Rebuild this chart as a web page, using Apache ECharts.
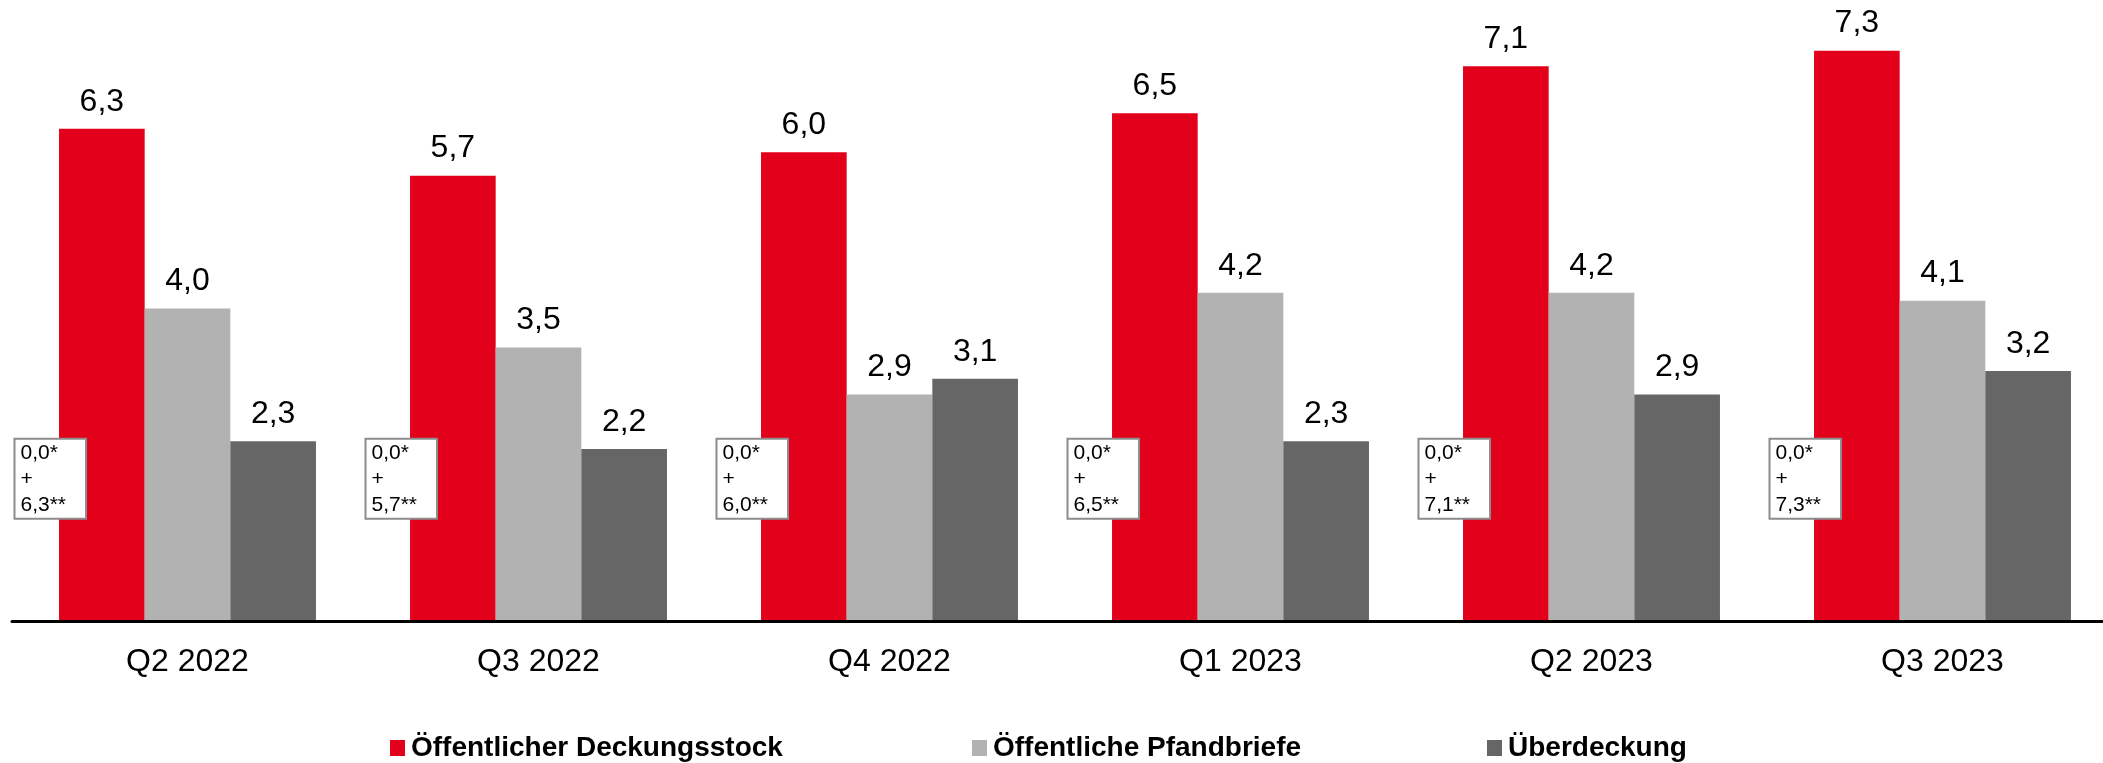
<!DOCTYPE html>
<html>
<head>
<meta charset="utf-8">
<script src="https://cdn.jsdelivr.net/npm/echarts@6/dist/echarts.min.js"></script>
<style>
  html, body { margin: 0; padding: 0; background: #fff; overflow: hidden; }
  #chart { width: 2130px; height: 763px; }
</style>
</head>
<body>
<div id="chart"></div>
<script>
// ---- data ----
const categories = ['Q2 2022', 'Q3 2022', 'Q4 2022', 'Q1 2023', 'Q2 2023', 'Q3 2023'];
const seriesNames = ['Öffentlicher Deckungsstock', 'Öffentliche Pfandbriefe', 'Überdeckung'];
const deckungsstock = [6.3, 5.7, 6.0, 6.5, 7.1, 7.3];
const pfandbriefe = [4.0, 3.5, 2.9, 4.2, 4.2, 4.1];
const ueberdeckung = [2.3, 2.2, 3.1, 2.3, 2.9, 3.2];
// annotation box parts: "a*" + "b**"
const annotPartA = [0.0, 0.0, 0.0, 0.0, 0.0, 0.0];
const annotPartB = [6.3, 5.7, 6.0, 6.5, 7.1, 7.3];

const FONT = '"Liberation Sans", Arial, sans-serif';
const fmt = v => v.toFixed(1).replace('.', ',');
const ANNOT_LEVEL = 1.82;

const chart = echarts.init(document.getElementById('chart'));

const valueLabel = {
  show: true,
  position: 'top',
  distance: 11,
  fontFamily: FONT,
  fontSize: 32,
  color: '#000',
  formatter: p => fmt(p.value)
};

const legendBase = {
  orient: 'horizontal',
  top: 729,
  icon: 'rect',
  itemWidth: 15,
  itemHeight: 16,
  selectedMode: false,
  textStyle: { fontFamily: FONT, fontSize: 28, fontWeight: 'bold', color: '#000', padding: [0, 0, 0, 1] }
};

chart.setOption({
  animation: false,
  backgroundColor: '#fff',
  grid: { left: 12, top: 35, width: 2106, height: 586, containLabel: false },
  legend: [
    Object.assign({}, legendBase, { left: 385, data: [seriesNames[0]] }),
    Object.assign({}, legendBase, { left: 967, data: [seriesNames[1]] }),
    Object.assign({}, legendBase, { left: 1482, data: [seriesNames[2]] })
  ],
  xAxis: {
    type: 'category',
    data: categories,
    z: 10,
    axisLine: { show: true, lineStyle: { color: '#000', width: 3 } },
    axisTick: { show: false },
    axisLabel: { fontFamily: FONT, fontSize: 32, color: '#000', margin: 25 },
    splitLine: { show: false }
  },
  yAxis: {
    type: 'value',
    min: 0,
    max: 7.5,
    show: false,
    splitLine: { show: false }
  },
  series: [
    {
      name: seriesNames[0],
      type: 'bar',
      data: deckungsstock,
      barGap: '0%',
      barCategoryGap: '26.8%',
      itemStyle: { color: '#E2001A' },
      label: valueLabel
    },
    {
      name: seriesNames[1],
      type: 'bar',
      data: pfandbriefe,
      barGap: '0%',
      barCategoryGap: '26.8%',
      itemStyle: { color: '#B2B2B2' },
      label: valueLabel
    },
    {
      name: seriesNames[2],
      type: 'bar',
      data: ueberdeckung,
      barGap: '0%',
      barCategoryGap: '26.8%',
      itemStyle: { color: '#666666' },
      label: valueLabel
    },
    {
      name: 'annot',
      type: 'scatter',
      z: 20,
      symbolSize: 1,
      itemStyle: { color: 'rgba(255,255,255,0)', opacity: 1 },
      silent: true,
      data: categories.map((c, i) => [i, ANNOT_LEVEL]),
      label: {
        show: true,
        position: 'inside',
        align: 'left',
        verticalAlign: 'middle',
        offset: [-172, 0],
        fontFamily: FONT,
        fontSize: 21,
        lineHeight: 26,
        color: '#000',
        opacity: 1,
        backgroundColor: '#ffffff',
        borderColor: '#8c8c8c',
        borderWidth: 2,
        padding: [0, 19, 0, 5],
        formatter: p => fmt(annotPartA[p.dataIndex]) + '*\n+\n' + fmt(annotPartB[p.dataIndex]) + '**'
      }
    }
  ]
});
</script>
</body>
</html>
